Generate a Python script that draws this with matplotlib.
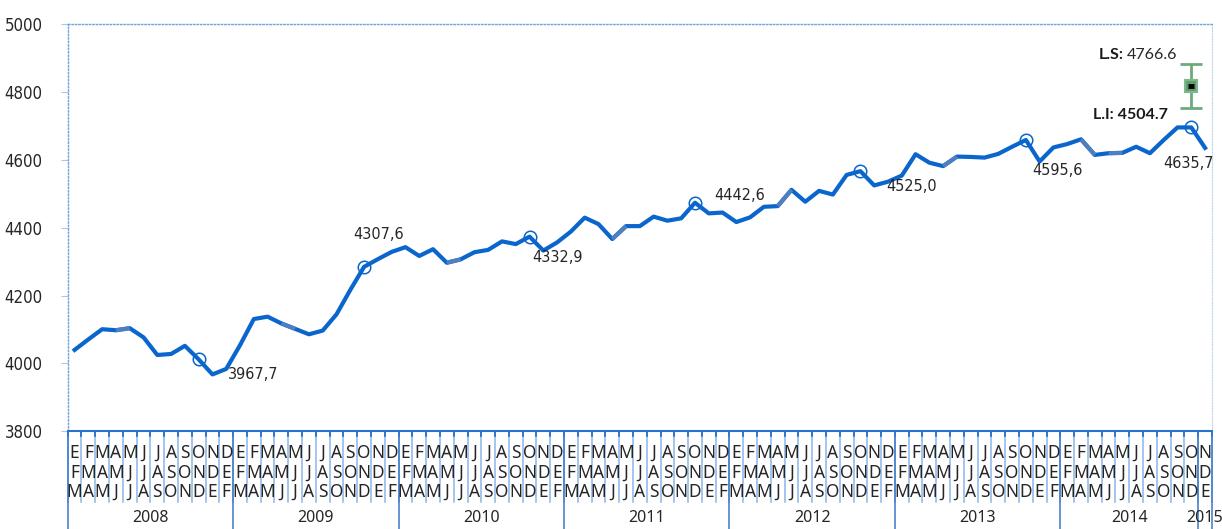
import matplotlib
matplotlib.use('Agg')
import matplotlib.pyplot as plt
import matplotlib.transforms as mtransforms
from matplotlib import font_manager as fm

# monthly rolling-quarter series (Jan-Feb-Mar 2008 .. Nov-Dec-Jan 2015)
valores = [4040, 4071, 4101, 4098, 4104, 4077, 4025, 4028, 4052, 4012, 3967.7, 3984,
           4054, 4131, 4138, 4118, 4102, 4086, 4097, 4145, 4217, 4285, 4307.6, 4329,
           4343, 4317, 4337, 4297, 4307, 4328, 4335, 4360, 4352, 4374, 4332.9, 4357,
           4389, 4430, 4411, 4367, 4405, 4405, 4433, 4421, 4428, 4474, 4442.6, 4445,
           4417, 4431, 4462, 4464, 4512, 4477, 4509, 4498, 4556, 4567, 4525.0, 4536,
           4554, 4617, 4592, 4582, 4610, 4609, 4607, 4618, 4639, 4659, 4595.6, 4637,
           4647, 4661, 4615, 4620, 4621, 4639, 4620, 4659, 4696, 4696, 4635.7]
meses = ['E', 'F', 'M', 'A', 'M', 'J', 'J', 'A', 'S', 'O', 'N', 'D']
anios = ['2008', '2009', '2010', '2011', '2012', '2013', '2014', '2015']
meses_por_anio = [12, 12, 12, 12, 12, 12, 10, 1]

idx_circulo = [9, 21, 33, 45, 57, 69, 81]          # OND of each year
idx_etiqueta = [10, 22, 34, 46, 58, 70, 82]        # NDE of each year
tramos_grises = [3, 15, 27, 39, 51, 63, 73, 75]    # segment i -> i+1 drawn greyer

# 2015 interval estimate
est_x = 81
est_centro = 4818
est_error = 66
lim_sup = '4766.6'
lim_inf = '4504.7'

AZUL = '#0A66CC'
GRIS = '#4F7FBF'

# pick a narrow face if one is installed
nombres = {f.name for f in fm.fontManager.ttflist}
condensadas = [f for f in fm.fontManager.ttflist
               if f.name == 'DejaVu Sans' and 'ondensed' in str(f.stretch) + f.fname]
if 'Liberation Sans Narrow' in nombres:
    NARROW = dict(family='Liberation Sans Narrow')
    escala = 1.0
elif condensadas:
    NARROW = dict(family='DejaVu Sans', stretch='condensed')
    escala = 0.86
else:
    NARROW = dict(family='DejaVu Sans')
    escala = 0.78

n = len(valores)
x = list(range(n))

fig = plt.figure(figsize=(12.22, 5.29), dpi=100)
ax = fig.add_axes([0.0554, 0.1847, 0.9364, 0.7693])

ax.plot(x, valores, color=AZUL, lw=3, solid_joinstyle='round', zorder=3)
for i in tramos_grises:
    ax.plot(x[i:i + 2], valores[i:i + 2], color=GRIS, lw=3, solid_capstyle='butt', zorder=3.5)
ax.plot([x[i] for i in idx_circulo], [valores[i] for i in idx_circulo], 'o',
        ms=9, mfc='none', mec=AZUL, mew=1.1, zorder=4)

# value labels
pos_etiqueta = {10: (11.1, 3966, 'left'), 22: (22.05, 4380, 'center'),
                34: (35.0, 4311, 'center'), 46: (48.25, 4494, 'center'),
                58: (60.7, 4523, 'center'), 70: (71.3, 4569, 'center'),
                82: (82.6, 4590, 'right')}
for i in idx_etiqueta:
    tx, ty, ha = pos_etiqueta[i]
    ax.text(tx, ty, f'{valores[i]:.1f}'.replace('.', ','), ha=ha, va='center',
            fontsize=13.5 * escala, color='#262626', clip_on=False, **NARROW)

# interval estimate
ax.errorbar([est_x], [est_centro], yerr=[est_error], fmt='none', ecolor='#6FAA7C',
            elinewidth=2, capsize=8, capthick=2, zorder=5)
ax.plot([est_x], [est_centro], 's', ms=9, mfc='#5E9E6C', mec='#7FB88C', mew=1.5, zorder=6)
ax.plot([est_x], [est_centro], '_', ms=5, mew=3.5, color='black', zorder=7)
ax.text(76.1, 4909, 'L.S:', ha='right', va='center', fontsize=11.5, family='Lato',
        fontweight='bold', color='#1a1a1a')
ax.text(76.3, 4909, lim_sup, ha='left', va='center', fontsize=11.5, family='Lato',
        color='#262626')
ax.text(76.6, 4734, 'L.I: ' + lim_inf, ha='center', va='center', fontsize=11.5,
        family='Lato', fontweight='bold', color='#1a1a1a')

ax.set_xlim(-0.5, n - 0.5)
ax.set_ylim(3800, 5000)
ax.set_yticks(range(3800, 5001, 200))
ax.set_yticklabels([str(v) for v in range(3800, 5001, 200)], **NARROW)
ax.tick_params(axis='y', labelsize=14 * escala, length=5, color='#A8C8EE', pad=13,
               labelcolor='#262626')
ax.tick_params(axis='x', bottom=False, labelbottom=False)

for s in ['left', 'top']:
    ax.spines[s].set_linestyle((0, (1, 1.5)))
    ax.spines[s].set_color('#6FA3E0')
    ax.spines[s].set_linewidth(1)
ax.spines['right'].set_linestyle((0, (1, 1.5)))
ax.spines['right'].set_color('#C4D4E8')
ax.spines['bottom'].set_color('#2A72CF')
ax.spines['bottom'].set_linewidth(1.5)

# category table below the axis
trans = mtransforms.blended_transform_factory(ax.transData, ax.transAxes)
for k in range(n + 1):
    ax.plot([k - 0.5, k - 0.5], [0, -0.1745], transform=trans, color='#8CB6E8',
            lw=1.1, clip_on=False)
    ax.plot([k - 0.5, k - 0.5], [0, -0.012], transform=trans, color='#1F68C8',
            lw=1.2, clip_on=False)
for i in range(n):
    for r, fy in enumerate([-0.0533, -0.1025, -0.149]):
        ax.text(i, fy, meses[(i + r) % 12], transform=trans, ha='center', va='center',
                fontsize=12.5, family='Noto Sans', color='#262626')

inicio = 0
for anio, cuenta in zip(anios, meses_por_anio):
    ax.plot([inicio - 0.5, inicio - 0.5], [0, -0.245], transform=trans, color='#3A78C9',
            lw=1.1, clip_on=False)
    ax.text(inicio - 0.5 + cuenta / 2, -0.213, anio, transform=trans, ha='center',
            va='center', fontsize=11.5, family='Noto Sans', color='#262626')
    inicio += cuenta
ax.plot([inicio - 0.5, inicio - 0.5], [0, -0.245], transform=trans, color='#3A78C9',
        lw=1.1, clip_on=False)

fig.savefig('out.png', dpi=100)
